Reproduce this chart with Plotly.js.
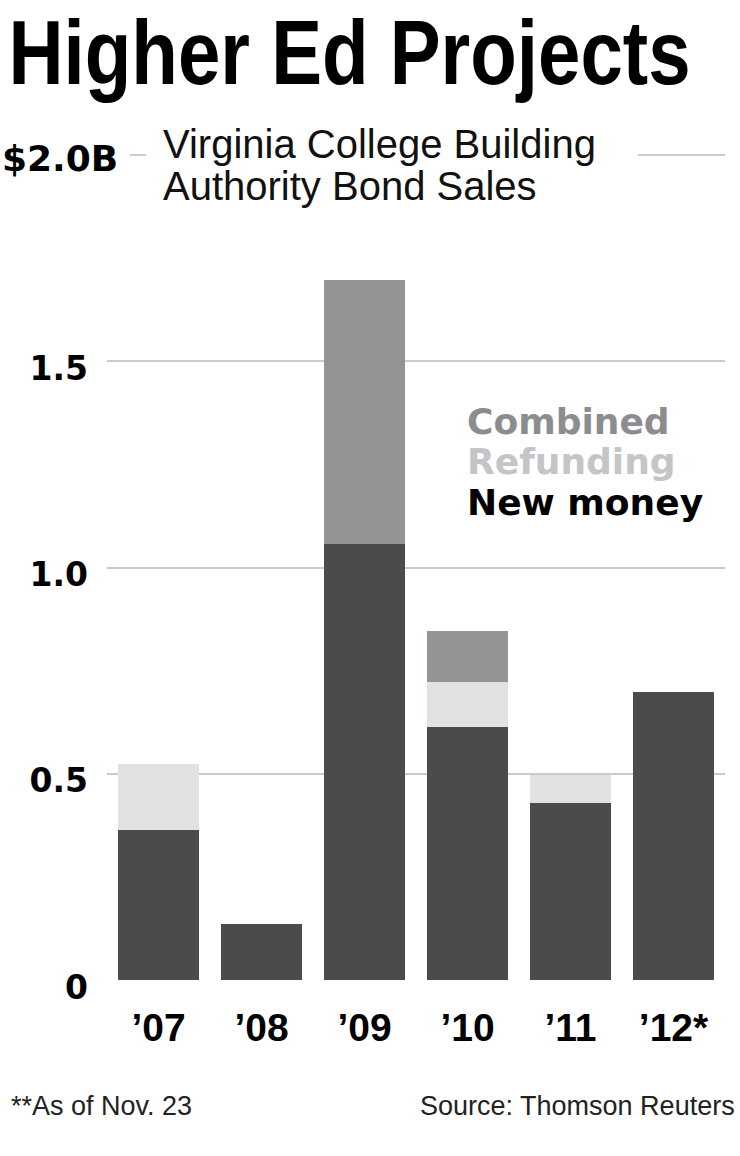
<!DOCTYPE html>
<html>
<head>
<meta charset="utf-8">
<script src="https://cdn.plot.ly/plotly-3.0.1.min.js"></script>
<style>
  html, body { margin: 0; padding: 0; background: #ffffff; }
  #chart { width: 740px; height: 1156px; }
</style>
</head>
<body>
<div id="chart"></div>
<script>
// ---- data ----
const years = ["\u201907", "\u201908", "\u201909", "\u201910", "\u201911", "\u201912*"];
const newMoney = [0.364, 0.135, 1.057, 0.614, 0.430, 0.699];
const refunding = [0.160, 0, 0, 0.108, 0.067, 0];
const combined = [0, 0, 0.641, 0.123, 0, 0];
const yTickVals = [0, 0.5, 1.0, 1.5];
const yTickText = ["0", "0.5", "1.0", "1.5"];
const topTickVal = 2.0;
const topTickText = "$2.0B";
const titleText = "Higher Ed Projects";

// ---- layout geometry helpers (pixels -> paper) ----
const W = 740, H = 1156;
const M = {l: 107, r: 15, t: 130, b: 176};
const PW = W - M.l - M.r, PH = H - M.t - M.b;
const fx = px => (px - M.l) / PW;
const fy = py => (H - M.b - py) / PH;

const colNew = "#4b4b4d", colRef = "#e1e2e3", colComb = "#939496";

const traces = [
  {type: "bar", name: "New money", x: years, y: newMoney, marker: {color: colNew, line: {width: 0}}},
  {type: "bar", name: "Refunding", x: years, y: refunding, marker: {color: colRef, line: {width: 0}}},
  {type: "bar", name: "Combined", x: years, y: combined, marker: {color: colComb, line: {width: 0}}}
];

const gridCol = "#cbcbcb";
const layout = {
  width: W, height: H,
  margin: M,
  paper_bgcolor: "#ffffff", plot_bgcolor: "#ffffff",
  barmode: "stack",
  bargap: 0.214,
  showlegend: false,
  xaxis: {
    type: "category",
    showgrid: false, zeroline: false, showline: false,
    ticks: "",
    tickfont: {family: "Liberation Sans, Arial, sans-serif", size: 39, color: "#000", weight: 700},
    ticklabelstandoff: 21,
    fixedrange: true
  },
  yaxis: {
    range: [0, 850 / 412.5],
    tickvals: yTickVals, ticktext: yTickText,
    showgrid: true, gridcolor: gridCol, gridwidth: 2,
    zeroline: false, showline: false, ticks: "",
    tickfont: {family: "DejaVu Sans, sans-serif", size: 33, color: "#000", weight: 700},
    ticklabelstandoff: 18,
    ticklabelshift: 7,
    fixedrange: true
  },
  shapes: [
    {type: "line", xref: "paper", yref: "y", x0: fx(130), x1: fx(146), y0: topTickVal, y1: topTickVal, line: {color: gridCol, width: 2}},
    {type: "line", xref: "paper", yref: "y", x0: fx(638), x1: fx(725), y0: topTickVal, y1: topTickVal, line: {color: gridCol, width: 2}},
    {type: "line", xref: "paper", yref: "y", ysizemode: "pixel", yanchor: 0, x0: 0, x1: 1, y0: -5, y1: -5, line: {color: "#000", width: 3}, layer: "above"}
  ],
  annotations: [
    {text: titleText, xref: "paper", yref: "paper", x: fx(349), y: fy(52.5), xanchor: "center", yanchor: "middle", showarrow: false,
     font: {family: "Liberation Sans, Arial, sans-serif", size: 73, color: "#000", weight: 700}},
    {text: topTickText, xref: "paper", yref: "paper", x: fx(0), y: fy(158), xanchor: "left", yanchor: "middle", showarrow: false,
     font: {family: "DejaVu Sans, sans-serif", size: 36, color: "#000", weight: 700}},
    {text: "Virginia College Building", xref: "paper", yref: "paper", x: fx(161), y: fy(144), xanchor: "left", yanchor: "middle", showarrow: false,
     font: {family: "Liberation Sans, Arial, sans-serif", size: 40, color: "#111"}},
    {text: "Authority Bond Sales", xref: "paper", yref: "paper", x: fx(161), y: fy(186), xanchor: "left", yanchor: "middle", showarrow: false,
     font: {family: "Liberation Sans, Arial, sans-serif", size: 40, color: "#111"}},
    {text: "Combined", xref: "paper", yref: "paper", x: fx(465), y: fy(421), xanchor: "left", yanchor: "middle", showarrow: false,
     font: {family: "DejaVu Sans, sans-serif", size: 36, color: "#8c8d8f", weight: 700}},
    {text: "Refunding", xref: "paper", yref: "paper", x: fx(465), y: fy(461), xanchor: "left", yanchor: "middle", showarrow: false,
     font: {family: "DejaVu Sans, sans-serif", size: 36, color: "#c4c5c7", weight: 700}},
    {text: "New money", xref: "paper", yref: "paper", x: fx(465), y: fy(502), xanchor: "left", yanchor: "middle", showarrow: false,
     font: {family: "DejaVu Sans, sans-serif", size: 36, color: "#000", weight: 700}},
    {text: "**As of Nov. 23", xref: "paper", yref: "paper", x: fx(9), y: fy(1106), xanchor: "left", yanchor: "middle", showarrow: false,
     font: {family: "Liberation Sans, Arial, sans-serif", size: 27, color: "#222"}},
    {text: "Source: Thomson Reuters", xref: "paper", yref: "paper", x: fx(737), y: fy(1106), xanchor: "right", yanchor: "middle", showarrow: false,
     font: {family: "Liberation Sans, Arial, sans-serif", size: 27, color: "#222"}}
  ]
};

Plotly.newPlot("chart", traces, layout, {staticPlot: true, displayModeBar: false}).then(gd => {
  // give the headline the reference's tall, narrow proportions while keeping it real text
  gd.querySelectorAll(".annotation-text").forEach(t => {
    if (t.textContent === titleText) {
      t.setAttribute("textLength", "682");
      t.setAttribute("lengthAdjust", "spacingAndGlyphs");
      const bb = t.getBBox();
      const cy = bb.y + bb.height / 2;
      const prev = t.getAttribute("transform") || "";
      t.setAttribute("transform", prev + " translate(0," + cy + ") scale(1,1.25) translate(0," + (-cy) + ")");
    }
  });
});
</script>
</body>
</html>
